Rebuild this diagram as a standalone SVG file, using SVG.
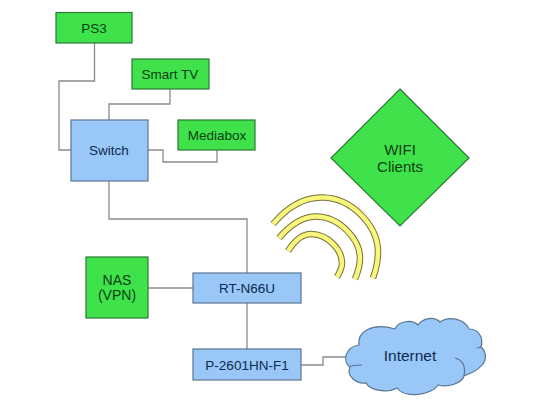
<svg xmlns="http://www.w3.org/2000/svg" width="540" height="407" viewBox="0 0 540 407">
<style>
text{font-family:"Liberation Sans",Arial,sans-serif;font-size:13.500px;text-anchor:middle}
.g{fill:#3fe24a;stroke:#2a7a36;stroke-width:1.2}
.b{fill:#99c7f7;stroke:#5b7590;stroke-width:1.2}
.c{fill:none;stroke:#8a8a8a;stroke-width:1.3}
.h{fill:none;stroke:#5b7590;stroke-width:1.2}
.ao{fill:none;stroke:#77713a;stroke-width:6.500}
.ai{fill:none;stroke:#f8f67c;stroke-width:4.500}
.gt{fill:#0b3f12}
.bt{fill:#0d2a50}
.l{font-size:15px}
</style>
<defs>
<path id="w1" d="M273 224C290 204 308 197 323 197.500C352 198 378 226 378 252C378 262 376 270 373 278"/>
<path id="w2" d="M279 238C290 225 303 217 315 216.500C340 216 360 240 360 258C360 265 358 272 355 279"/>
<path id="w3" d="M288 251C295 240 303 234 311 234C328 234 342 250 342 263C342 268 340 272 337 277"/>
</defs>
<rect width="540" height="407" fill="#fff"/>
<g id="connectors" class="c">
<path d="M94.500 43V81H59V150H71"/>
<path d="M170 89V104H109V120"/>
<path d="M217 150V162H163V150H148"/>
<path d="M109 181V219H247V273"/>
<path d="M148 288H193"/>
<path d="M247 303V349"/>
<path d="M301 365H323V357H347"/>
</g>
<g id="ps3"><rect class="g" x="56" y="12.500" width="76" height="30.500"/><text class="gt" x="94" y="33">PS3</text></g>
<g id="smart-tv"><rect class="g" x="132" y="59" width="77" height="30"/><text class="gt" x="170" y="79">Smart TV</text></g>
<g id="mediabox"><rect class="g" x="178" y="120" width="77" height="30"/><text class="gt" x="217" y="140">Mediabox</text></g>
<g id="switch"><rect class="b" x="71" y="120" width="77" height="61"/><text class="bt" x="109" y="155">Switch</text></g>
<g id="wifi-clients"><polygon class="g" points="400,89 469,158 400,226 331,158"/><text class="gt l" x="400" y="155">WIFI</text><text class="gt l" x="400" y="172">Clients</text></g>
<g id="wifi-waves">
<use href="#w1" class="ao"/><use href="#w1" class="ai"/>
<use href="#w2" class="ao"/><use href="#w2" class="ai"/>
<use href="#w3" class="ao"/><use href="#w3" class="ai"/>
</g>
<g id="nas"><rect class="g" x="86" y="257" width="62" height="61"/><text class="gt" x="117" y="285" style="font-size:14px">NAS</text><text class="gt" x="117" y="300" style="font-size:14px">(VPN)</text></g>
<g id="rt-n66u"><rect class="b" x="193" y="273" width="108" height="30"/><text class="bt" x="247" y="293">RT-N66U</text></g>
<g id="p-2601hn-f1"><rect class="b" x="193" y="349" width="108" height="31"/><text class="bt" x="247" y="370">P-2601HN-F1</text></g>
<g id="internet"><path class="b" d="M359 345C357 332 372 322 395 329C398 321 412 319 418 325C423 318 434 316 440 322C448 316 464 318 469 329C478 329 484 337 481 347C487 352 487 362 480 367C476 372 470 373 464 376C462 383 448 388 438 385C432 395 405 399 397 388C388 393 370 391 366 383C356 384 346 376 350 367C342 362 345 347 359 345Z"/><path class="h" d="M455 358C462 360 466 366 464 376M349 367C352 365 358 365 362 365M477 348L481 347"/><text class="bt" x="410" y="361" style="font-size:15.500px">Internet</text></g>
</svg>
